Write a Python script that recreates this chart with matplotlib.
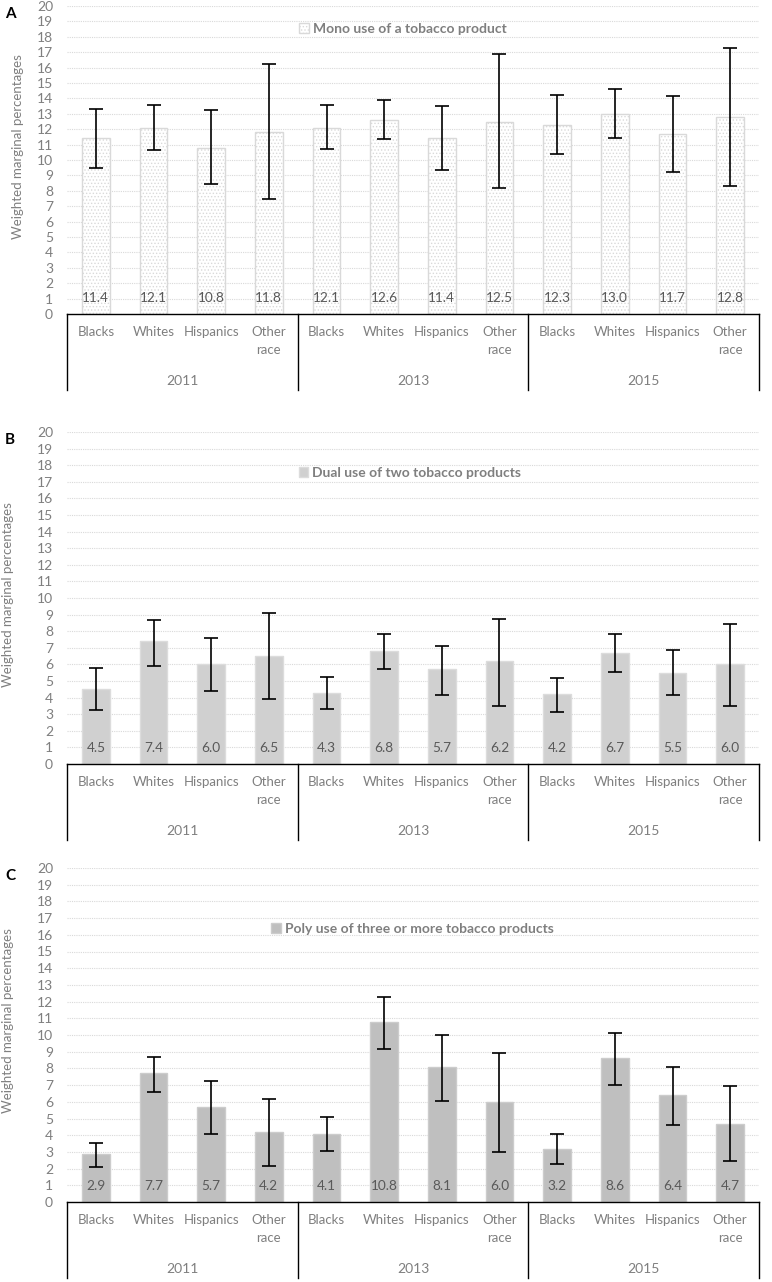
import matplotlib
matplotlib.use("Agg")
import matplotlib.pyplot as plt
from matplotlib.patches import Patch

plt.rcParams.update({"font.family": ["Lato", "DejaVu Sans"], "hatch.linewidth": 0.6})

GROUPS = ["Blacks", "Whites", "Hispanics", "Other\nrace"]
YEARS = ["2011", "2013", "2015"]

MONO = [11.4, 12.1, 10.8, 11.8, 12.1, 12.6, 11.4, 12.5, 12.3, 13.0, 11.7, 12.8]
MONO_LO = [9.46, 10.68, 8.46, 7.46, 10.72, 11.38, 9.35, 8.18, 10.37, 11.46, 9.22, 8.28]
MONO_HI = [13.33, 13.55, 13.27, 16.22, 13.57, 13.87, 13.48, 16.9, 14.25, 14.59, 14.16, 17.29]

DUAL = [4.5, 7.4, 6.0, 6.5, 4.3, 6.8, 5.7, 6.2, 4.2, 6.7, 5.5, 6.0]
DUAL_LO = [3.26, 5.93, 4.42, 3.92, 3.34, 5.75, 4.18, 3.48, 3.12, 5.57, 4.14, 3.52]
DUAL_HI = [5.76, 8.70, 7.58, 9.07, 5.25, 7.84, 7.08, 8.76, 5.21, 7.84, 6.89, 8.43]

POLY = [2.9, 7.7, 5.7, 4.2, 4.1, 10.8, 8.1, 6.0, 3.2, 8.6, 6.4, 4.7]
POLY_LO = [2.09, 6.58, 4.05, 2.17, 3.05, 9.17, 6.04, 3.01, 2.27, 7.02, 4.60, 2.43]
POLY_HI = [3.53, 8.71, 7.24, 6.16, 5.08, 12.3, 10.02, 8.91, 4.10, 10.14, 8.09, 6.96]

TXT = "#7f7f7f"
W, H = 772, 1282

# name, letter, data, style, axes box in px (top, bottom), legend pos, ylabel pos
PANELS = [
    ("Mono use of a tobacco product", "A", MONO, MONO_LO, MONO_HI,
     dict(color="white", edgecolor="#d9d9d9", hatch="....."), (6, 314), (0.4855, 0.925), (-0.062, 0.545)),
    ("Dual use of two tobacco products", "B", DUAL, DUAL_LO, DUAL_HI,
     dict(color="#d0d0d0", edgecolor="#dcdcdc"), (432, 764), (0.4957, 0.8765), (-0.076, 0.509)),
    ("Poly use of three or more tobacco products", "C", POLY, POLY_LO, POLY_HI,
     dict(color="#bfbfbf", edgecolor="#cccccc"), (868, 1202), (0.499, 0.817), (-0.076, 0.542)),
]

fig = plt.figure(figsize=(W / 100, H / 100), dpi=100)
px = 0.72  # points per pixel

for name, letter, vals, lo, hi, style, (top, bot), legpos, ylpos in PANELS:
    ax = fig.add_axes([67 / W, 1 - bot / H, 692 / W, (bot - top) / H])
    xs = list(range(len(vals)))
    ax.bar(xs, vals, width=0.48, linewidth=1.0, zorder=2, **style)
    yerr = [[v - l for v, l in zip(vals, lo)], [h - v for v, h in zip(vals, hi)]]
    ax.errorbar(xs, vals, yerr=yerr, fmt="none", ecolor="black", elinewidth=1.2,
                capsize=5, capthick=1.2, zorder=3)
    for x, v in zip(xs, vals):
        ax.annotate(f"{v:.1f}", (x, 0), xytext=(0, 15.5 * px), textcoords="offset points",
                    ha="center", va="center", fontsize=9.8, color="#595959", zorder=4)

    ax.set_xlim(-0.5, 11.5)
    ax.set_ylim(0, 20)
    ax.set_yticks(range(0, 21))
    ax.tick_params(axis="y", length=0, pad=10, labelsize=10, labelcolor=TXT)
    ax.set_xticks([])
    ax.yaxis.grid(True, color="#d9d9d9", linestyle=(0, (1, 1)), linewidth=0.8, zorder=0)
    ax.set_axisbelow(True)
    for s in ("left", "right", "top"):
        ax.spines[s].set_visible(False)
    ax.spines["bottom"].set_color("black")
    ax.spines["bottom"].set_linewidth(1.0)

    # two-level category axis
    for x in xs:
        ax.annotate(GROUPS[x % 4], (x, 0), xycoords=("data", "axes fraction"),
                    xytext=(0, -12 * px), textcoords="offset points", ha="center", va="top",
                    fontsize=9.5, color=TXT, linespacing=1.65, annotation_clip=False)
    for k, yr in enumerate(YEARS):
        ax.annotate(yr, (4 * k + 1.5, 0), xycoords=("data", "axes fraction"),
                    xytext=(0, -67 * px), textcoords="offset points", ha="center", va="center",
                    fontsize=10, color=TXT, annotation_clip=False)
    sep_len = 76 / (bot - top)
    for b in (-0.5, 3.5, 7.5, 11.5):
        ax.plot([b, b], [0, -sep_len], transform=ax.get_xaxis_transform(),
                color="black", lw=1.0, clip_on=False)

    handle = Patch(facecolor=style["color"], edgecolor=style["edgecolor"],
                   hatch=style.get("hatch"), label=name)
    ax.legend(handles=[handle], loc="center", bbox_to_anchor=legpos, frameon=False,
              handlelength=0.7, handleheight=0.7, handletextpad=0.3,
              prop={"weight": "bold", "size": 10}, labelcolor=TXT)

    ax.set_ylabel("Weighted marginal percentages", fontsize=9.5, color=TXT)
    ax.yaxis.set_label_coords(*ylpos)
    fig.text(10 / W, 1 - (top + 8) / H, letter, fontsize=11, fontweight="bold",
             ha="center", va="center")

fig.savefig("out.png", dpi=100)
